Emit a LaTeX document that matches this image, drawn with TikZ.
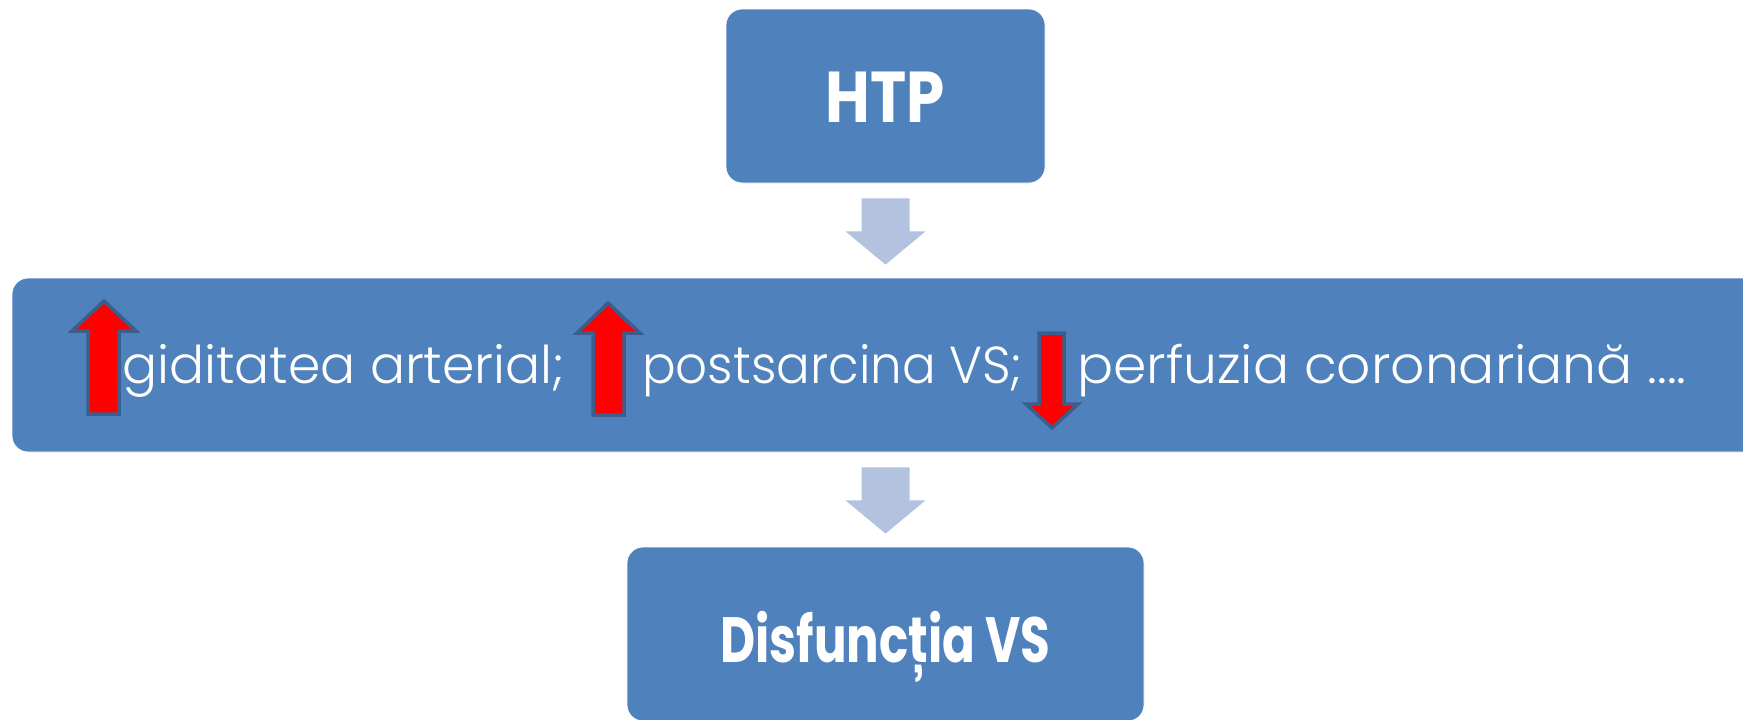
\documentclass[tikz,border=0pt]{standalone}
\usepackage{fontspec}
\setmainfont{Poppins}
\newfontfamily\lightfont{Poppins Light}
\usetikzlibrary{calc}
\definecolor{boxblue}{HTML}{4F81BD}
\definecolor{connblue}{HTML}{B3C3DF}
\definecolor{arrowedge}{HTML}{3A5F8F}
\begin{document}
\begin{tikzpicture}[x=1pt,y=-1pt,
  box/.style={fill=boxblue, draw=white, line width=0.8pt, rounded corners=16pt, inner sep=0pt},
  conn/.style={fill=connblue, draw=none},
  redarrow/.style={fill=red, draw=arrowedge, line width=3.5pt, line join=miter},
  txt/.style={text=white, inner sep=0pt},
  titletext/.style={txt, anchor=base, font=\bfseries\fontsize{72}{72}\selectfont},
  midtext/.style={txt, anchor=base west, font=\lightfont\fontsize{52}{52}\selectfont}]
\useasboundingbox (0,0) rectangle (1743,720);
\clip (0,0) rectangle (1743,720);
\fill[white] (0,0) rectangle (1743,720);
% boxes
\node[box, minimum width=319pt, minimum height=174pt] (htp) at (885.5,96) {};
\node[box, minimum width=1748pt, minimum height=174pt] (mid) at (886,365) {};
\node[box, minimum width=517pt, minimum height=174pt] (dis) at (885.5,634) {};
\node[titletext] (htplabel) at (885.5,122) {\scalebox{0.85}[1]{HTP}};
\node[titletext, font=\bfseries\fontsize{64}{64}\selectfont] (dislabel) at (885.5,662) {\scalebox{0.755}[1]{Disfuncția VS}};
% connectors
\coordinate (a1s) at ($(htp.south)+(0,15)$);
\coordinate (a1e) at ($(htp.south |- mid.north)+(0,-13)$);
\fill[conn] ($(a1s)+(-24,0)$) -- ($(a1s)+(24,0)$) -- ($(a1s)+(24,33)$) -- ($(a1s)+(40,33)$)
   -- (a1e) -- ($(a1s)+(-40,33)$) -- ($(a1s)+(-24,33)$) -- cycle;
\coordinate (a2s) at ($(htp.south |- mid.south)+(0,15)$);
\coordinate (a2e) at ($(dis.north)+(0,-13)$);
\fill[conn] ($(a2s)+(-24,0)$) -- ($(a2s)+(24,0)$) -- ($(a2s)+(24,33)$) -- ($(a2s)+(40,33)$)
   -- (a2e) -- ($(a2s)+(-40,33)$) -- ($(a2s)+(-24,33)$) -- cycle;
% middle text
\node[midtext] (t1) at (122,383) {giditatea arterial;};
\node[midtext] (t2) at (642,383) {\scalebox{0.96}[1]{postsarcina VS;}};
\node[midtext] (t3) at (1077,383) {\scalebox{1.03}[1]{perfuzia coronariană ....}};
% red arrows
\draw[redarrow] (104,301) -- (136,331) -- (119,331) -- (119,414) -- (88,414) -- (88,331) -- (72,331) -- cycle;
\draw[redarrow] (608,303) -- (640,333) -- (624,333) -- (624,415) -- (593,415) -- (593,333) -- (577,333) -- cycle;
\draw[redarrow] (1039,333) -- (1064,333) -- (1064,404) -- (1078,404) -- (1052,428) -- (1026,404) -- (1039,404) -- cycle;
\end{tikzpicture}
\end{document}
